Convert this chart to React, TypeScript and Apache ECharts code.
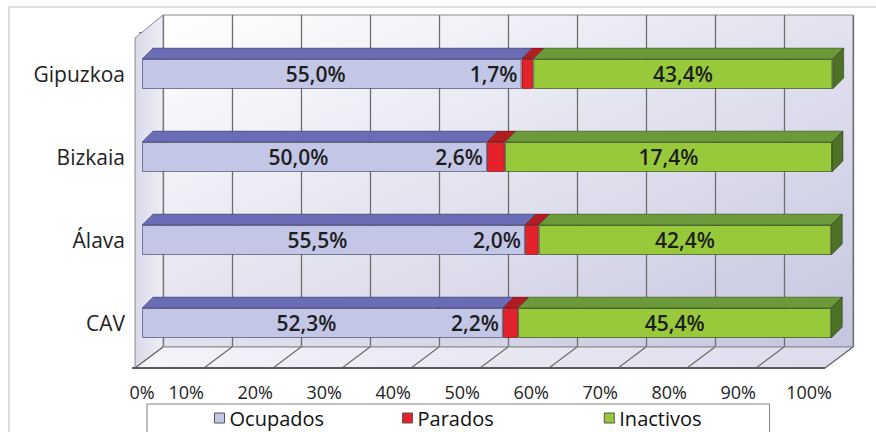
import React, { useEffect, useRef } from "react";
import * as echarts from "echarts";

const categories = ["CAV", "Álava", "Bizkaia", "Gipuzkoa"];
const seriesNames = ["Ocupados", "Parados", "Inactivos"];
const ocupados = [52.3, 55.5, 50.0, 55.0];
const parados = [2.2, 2.0, 2.6, 1.7];
// bar lengths as drawn; Bizkaia's printed label reads 17,4%
const inactivos = [45.4, 42.4, 47.4, 43.4];
const inactivosLabels = ["45,4%", "42,4%", "17,4%", "43,4%"];
const tickValues = [0, 10, 20, 30, 40, 50, 60, 70, 80, 90, 100];

const FONT = "Open Sans";
const frontColors = ["#c3c6e7", "#e3222b", "#98c93b"];
const topColors = ["#6a6cb6", "#b01d22", "#6c9a3a"];
const sideColor = "#4d7226";

const fmt = (v: number) => v.toFixed(1).replace(".", ",") + "%";

export default function App() {
  const ref = useRef<HTMLDivElement>(null);
  useEffect(() => {
    if (!ref.current) return;
    const chart = echarts.init(ref.current, undefined, { renderer: "svg" });
    const valueSets = [ocupados, parados, inactivos];
    const segs: number[][] = [];
    categories.forEach((_, i) => {
      let acc = 0;
      valueSets.forEach((arr, k) => {
        segs.push([i, acc, acc + arr[i], k]);
        acc += arr[i];
      });
    });

    // floor geometry (decoration)
    const fx0 = 135, fx1 = 825, fy = 368, bx0 = 163, bx1 = 853, by = 347;
    const floorLines: any[] = tickValues.map((t) => {
      const f = fx0 + ((fx1 - fx0) * t) / 100;
      const b = bx0 + ((bx1 - bx0) * t) / 100;
      return {
        type: "line",
        z: 1,
        shape: { x1: f, y1: fy, x2: b, y2: by },
        style: { stroke: "#6b6b6b", lineWidth: 1.2 },
      };
    });

    const labelBase = {
      show: true,
      fontFamily: FONT,
      fontSize: 21,
      fontWeight: 600,
      color: "#1e1e1e",
    };

    const option: any = {
      animation: false,
      backgroundColor: "#ffffff",
      textStyle: { fontFamily: FONT },
      graphic: [
        {
          type: "rect",
          z: 0,
          shape: { x: 9, y: 7, width: 900, height: 460 },
          style: { fill: "none", stroke: "#d4d4d4", lineWidth: 1.5 },
        },
        {
          type: "polygon",
          z: 1,
          shape: { points: [[135, 38], [163, 15], [163, 347], [135, 368]] },
          style: {
            fill: new echarts.graphic.LinearGradient(0, 0, 1, 0, [
              { offset: 0, color: "#d9d9ea" },
              { offset: 1, color: "#eeeef6" },
            ]),
            stroke: "#8a8a8a",
            lineWidth: 1,
          },
        },
        {
          type: "polygon",
          z: 1,
          shape: { points: [[fx0, fy], [bx0, by], [bx1, by], [fx1, fy]] },
          style: {
            fill: new echarts.graphic.LinearGradient(0, 0, 1, 0, [
              { offset: 0, color: "#f4f4fa" },
              { offset: 1, color: "#dcdcec" },
            ]),
            stroke: "#8a8a8a",
            lineWidth: 1,
          },
        },
        ...floorLines,
        {
          type: "line",
          z: 1,
          shape: { x1: fx0 - 3, y1: fy, x2: fx1, y2: fy },
          style: { stroke: "#5a5a5a", lineWidth: 2 },
        },
      ],
      legend: {
        data: seriesNames,
        left: 147,
        top: 404,
        padding: [1, 68, 30, 67],
        borderColor: "#808080",
        borderWidth: 1,
        itemGap: 78,
        itemWidth: 10,
        itemHeight: 10,
        icon: "rect",
        itemStyle: { borderColor: "#555", borderWidth: 1 },
        formatter: (name: string) => (name === "Parados" ? "{p|Parados}" : name),
        textStyle: {
          fontFamily: FONT,
          fontSize: 20,
          lineHeight: 26,
          color: "#111",
          rich: {
            p: {
              fontFamily: FONT,
              fontSize: 20,
              lineHeight: 26,
              color: "#111",
              padding: [0, 32, 0, 0],
            },
          },
        },
      },
      grid: [
        {
          left: 142,
          right: 44,
          top: 32.5,
          bottom: 67.5,
          containLabel: false,
          outerBoundsMode: "none",
        },
        {
          left: 163,
          right: 23,
          top: 15,
          bottom: 85,
          show: true,
          z: 0,
          outerBoundsMode: "none",
          borderColor: "#8a8a8a",
          borderWidth: 1,
          backgroundColor: new echarts.graphic.LinearGradient(0, 0, 1, 1, [
            { offset: 0, color: "#ffffff" },
            { offset: 1, color: "#c5c5df" },
          ]),
        },
      ],
      xAxis: [
        {
          type: "value",
          gridIndex: 0,
          min: 0,
          max: 100,
          interval: 10,
          axisLine: { show: false },
          axisTick: { show: false },
          splitLine: { show: false },
          axisLabel: {
            margin: 17.5,
            showMinLabel: true,
            showMaxLabel: true,
            hideOverlap: false,
            align: "right",
            alignMinLabel: "center",
            alignMaxLabel: "right",
            fontFamily: FONT,
            fontSize: 18,
            lineHeight: 20,
            color: "#222",
            formatter: (v: number) => (v === 0 || v === 100 ? `{e|${v}%}` : `{s|${v}%}`),
            rich: {
              e: { fontFamily: FONT, fontSize: 18, lineHeight: 20, color: "#222" },
              s: { fontFamily: FONT, fontSize: 18, lineHeight: 20, color: "#222", padding: [0, 7, 0, 0] },
            },
          },
        },
        {
          type: "value",
          gridIndex: 1,
          min: 0,
          max: 100,
          interval: 10,
          axisLine: { show: false },
          axisTick: { show: false },
          axisLabel: { show: false },
          splitLine: { show: true, lineStyle: { color: "#6e6e6e", width: 1.3 } },
        },
      ],
      yAxis: [
        {
          type: "category",
          gridIndex: 0,
          data: categories,
          offset: 7,
          axisLine: { show: true, lineStyle: { color: "#777", width: 1 } },
          axisTick: { show: true, length: 3, lineStyle: { color: "#777" } },
          axisLabel: { margin: 10, fontFamily: FONT, fontSize: 21, color: "#222" },
        },
        {
          type: "value",
          gridIndex: 1,
          show: false,
          splitLine: { show: false },
        },
      ],
      series: [
        {
          name: "Ocupados",
          type: "bar",
          stack: "total",
          barWidth: 30,
          z: 3,
          data: ocupados,
          itemStyle: { color: frontColors[0], borderColor: "rgba(40,40,80,0.55)", borderWidth: 1 },
          label: {
            ...labelBase,
            position: "inside",
            offset: [-16, 0],
            formatter: (p: any) => fmt(p.value),
          },
        },
        {
          name: "Parados",
          type: "bar",
          stack: "total",
          barWidth: 30,
          z: 3,
          data: parados,
          itemStyle: { color: frontColors[1], borderColor: "rgba(80,0,0,0.55)", borderWidth: 1 },
          label: {
            ...labelBase,
            position: "left",
            distance: 4,
            formatter: (p: any) => fmt(p.value),
          },
        },
        {
          name: "Inactivos",
          type: "bar",
          stack: "total",
          barWidth: 30,
          z: 3,
          data: inactivos,
          itemStyle: { color: frontColors[2], borderColor: "rgba(30,60,10,0.6)", borderWidth: 1 },
          label: {
            ...labelBase,
            position: "inside",
            formatter: (p: any) => inactivosLabels[p.dataIndex],
          },
        },
        {
          name: "faces",
          type: "custom",
          xAxisIndex: 0,
          yAxisIndex: 0,
          z: 4,
          silent: true,
          encode: { x: [1, 2], y: 0 },
          data: segs,
          renderItem: (params: any, api: any) => {
            const cat = api.value(0);
            const s = api.value(1);
            const e = api.value(2);
            const k = api.value(3);
            const p0 = api.coord([s, cat]);
            const p1 = api.coord([e, cat]);
            const h = 30;
            const d = 11;
            const yTop = p0[1] - h / 2;
            const yBot = p0[1] + h / 2;
            const children: any[] = [
              {
                type: "polygon",
                shape: {
                  points: [
                    [p0[0], yTop],
                    [p0[0] + d, yTop - d],
                    [p1[0] + d, yTop - d],
                    [p1[0], yTop],
                  ],
                },
                style: { fill: topColors[k], stroke: "rgba(0,0,0,0.35)", lineWidth: 0.8 },
              },
            ];
            if (k === 2) {
              children.push({
                type: "polygon",
                shape: {
                  points: [
                    [p1[0], yTop],
                    [p1[0] + d, yTop - d],
                    [p1[0] + d, yBot - d],
                    [p1[0], yBot],
                  ],
                },
                style: { fill: sideColor, stroke: "rgba(0,0,0,0.45)", lineWidth: 0.8 },
              });
            }
            return { type: "group", children };
          },
        },
      ],
    };
    chart.setOption(option);
    return () => chart.dispose();
  }, []);
  return (
    <div
      ref={ref}
      style={{ position: "fixed", left: 0, top: 0, width: 876, height: 432, background: "#fff" }}
    />
  );
}
